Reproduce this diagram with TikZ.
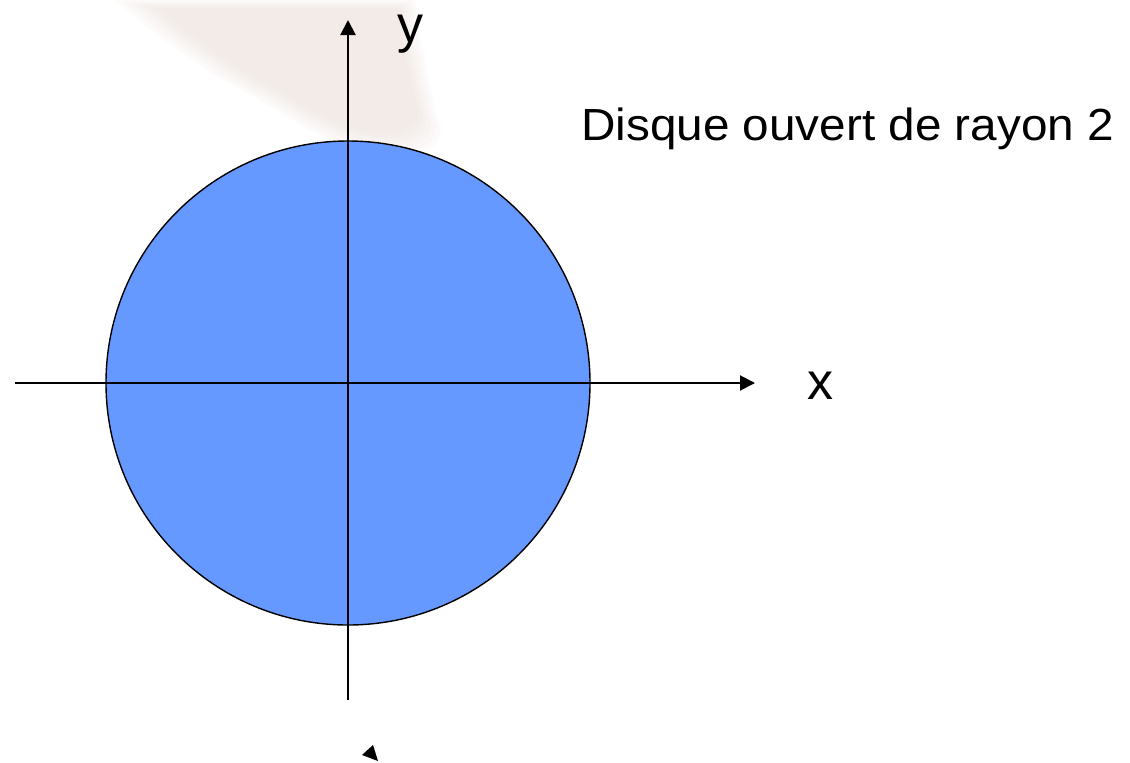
\documentclass[tikz,border=0pt]{standalone}
\usepackage{fontspec}
\setmainfont{Liberation Sans}
\usetikzlibrary{arrows.meta}
\definecolor{diskblue}{RGB}{102,153,255}
\definecolor{handtone}{RGB}{232,215,208}
\tikzset{
  axis/.style={line width=2pt,-{Triangle[length=15pt,width=15pt]}},
  disk/.style={circle,draw=black,line width=1.4pt,fill=diskblue,minimum size=484pt,inner sep=0pt},
  axlabel/.style={font=\fontsize{52}{52}\selectfont,inner sep=0pt,anchor=base},
  title/.style={font=\fontsize{45}{45}\selectfont,inner sep=0pt,anchor=base west,xscale=1.06},
  hand/.style={fill=handtone,fill opacity=0.09,draw=none}
}
\begin{document}
\begin{tikzpicture}[x=1pt,y=-1pt]
\useasboundingbox (0,0) rectangle (1130,763);
\fill[white] (0,0) rectangle (1130,763);
% faint background hand (soft layered shapes)
\foreach \s in {1.00,0.96,0.92,0.88,0.84,0.80}{
  \fill[hand,shift={(330,40)},scale=\s,shift={(-330,-40)}]
    (115,0) .. controls (150,30) and (200,70) .. (260,100)
    .. controls (300,125) and (340,150) .. (380,155)
    .. controls (420,160) and (440,150) .. (440,130)
    .. controls (430,90) and (420,40) .. (415,0) -- cycle;
}
% disk
\node[disk] (D) at (348,383) {};
% axes
\coordinate (xs) at (15,383);
\coordinate (xe) at (755,383);
\coordinate (ys) at (348,700);
\coordinate (ye) at (348,20);
\draw[axis] (xs) -- (xe);
\draw[axis] (ys) -- (ye);
\node[axlabel] (xl) at (820,399) {x};
\node[axlabel] (yl) at (410,42) {y};
\node[title] (t) at (581,140) {Disque ouvert de rayon 2};
% stray arrowhead
\fill[black] (373,745) -- (362,755) -- (378,761) -- cycle;
\end{tikzpicture}
\end{document}
